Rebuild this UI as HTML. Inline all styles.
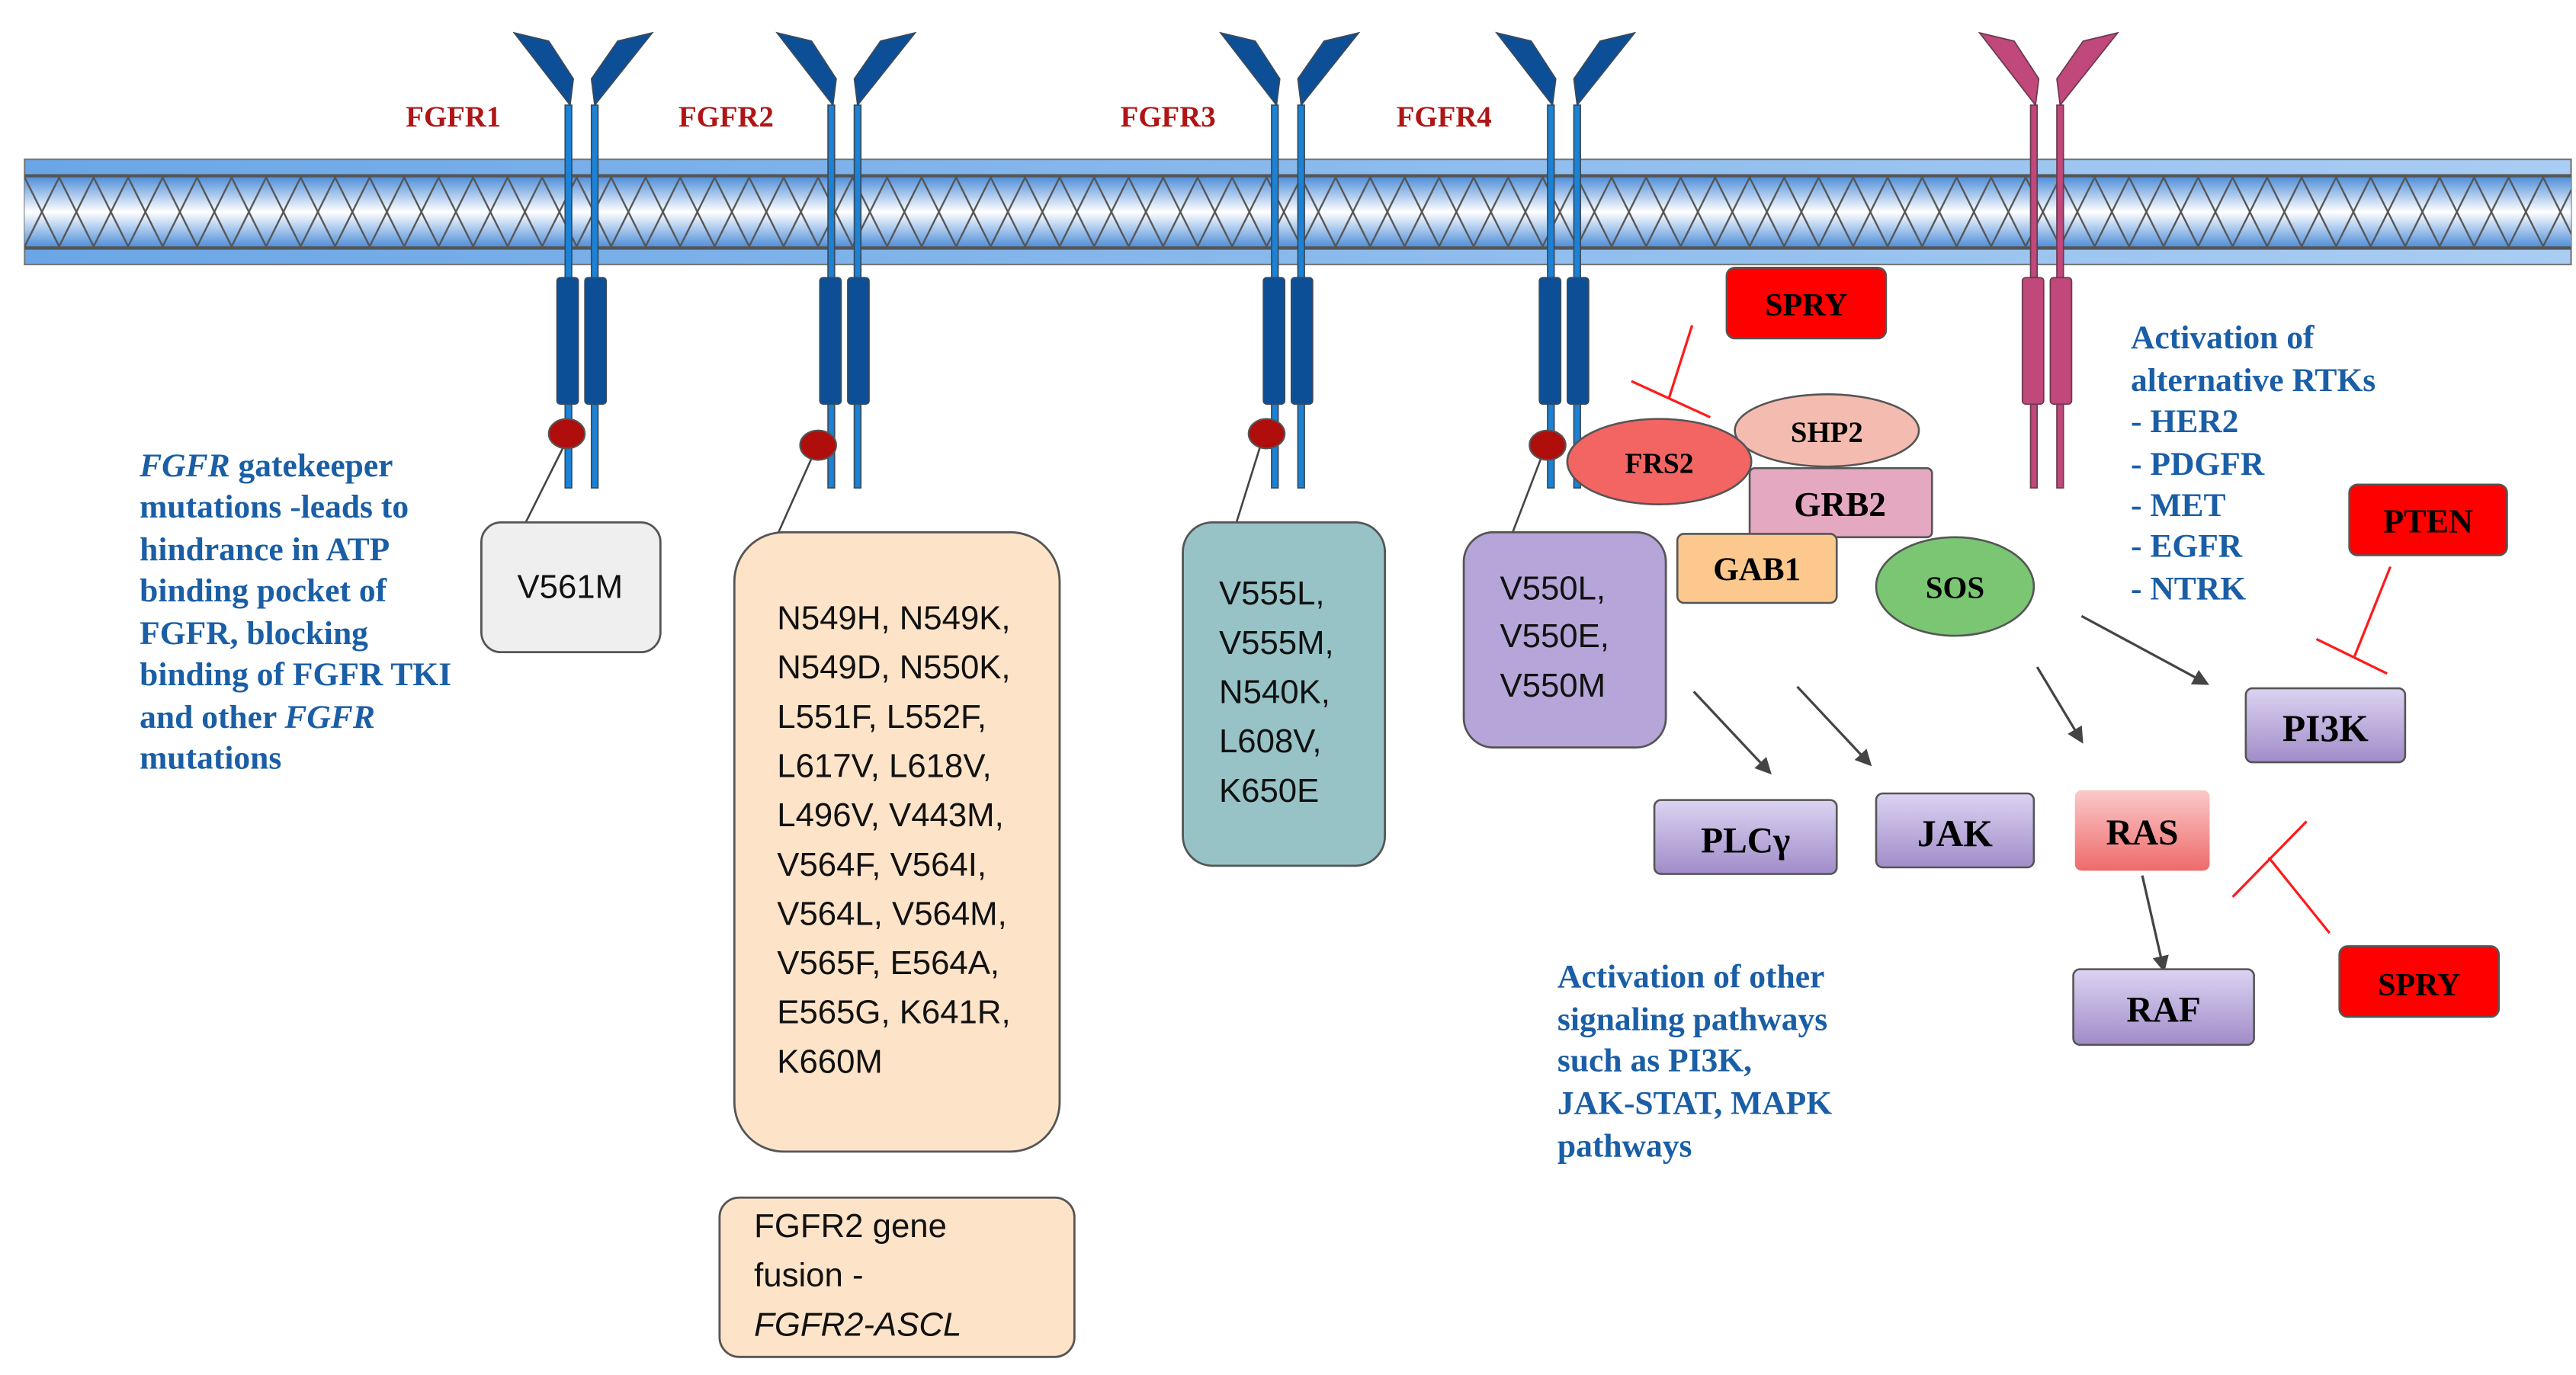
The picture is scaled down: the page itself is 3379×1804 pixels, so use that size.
<!DOCTYPE html>
<html><head><meta charset="utf-8"><style>
html,body{margin:0;padding:0;background:#fff;}
svg{display:block;}
.s{font-family:"Liberation Serif",serif;font-weight:bold;}
.a{font-family:"Liberation Sans",sans-serif;font-size:20.3px;fill:#111;}
.blue{fill:#1a5ea6;font-size:20.2px;}
.red{fill:#b01515;font-size:18px;}
</style></head><body>
<svg width="3379" height="1804" viewBox="0 0 1568 837" preserveAspectRatio="none" xmlns="http://www.w3.org/2000/svg">
<defs>
<linearGradient id="mem" x1="0" y1="0" x2="0" y2="1">
<stop offset="0" stop-color="#4a8bd8"/><stop offset="0.5" stop-color="#ffffff"/><stop offset="1" stop-color="#4a8bd8"/>
</linearGradient>
<linearGradient id="band" x1="0" y1="0" x2="1" y2="0">
<stop offset="0" stop-color="#6aa6e6"/><stop offset="1" stop-color="#a9cdf3"/>
</linearGradient>
<linearGradient id="pur" x1="0" y1="0" x2="0" y2="1">
<stop offset="0" stop-color="#dcd3f2"/><stop offset="1" stop-color="#a08cc8"/>
</linearGradient>
<linearGradient id="ras" x1="0" y1="0" x2="0" y2="1">
<stop offset="0" stop-color="#fbcaca"/><stop offset="1" stop-color="#ef6a6a"/>
</linearGradient>
<pattern id="zz" x="15" y="108" width="42" height="42" patternUnits="userSpaceOnUse">
<path d="M0,0 L21,42 L42,0 M0,42 L21,0 L42,42" stroke="#555" stroke-width="1.1" fill="none"/>
</pattern>
<marker id="ar" markerWidth="10" markerHeight="10" refX="8" refY="5" orient="auto" markerUnits="userSpaceOnUse" viewBox="0 0 10 10">
<path d="M0,0 L10,5 L0,10 z" fill="#444"/>
</marker>
<g id="rec">
<polygon points="-41,20 -20,25 -5,48 -7,64" fill="#0d4f96" stroke="#3a4a5a" stroke-width="0.8"/>
<polygon points="43,20 22,25 6,48 8,64" fill="#0d4f96" stroke="#3a4a5a" stroke-width="0.8"/>
<rect x="-10" y="64" width="4" height="233" fill="#1b82d6" stroke="#3a4a5a" stroke-width="0.8"/>
<rect x="6" y="64" width="4" height="233" fill="#1b82d6" stroke="#3a4a5a" stroke-width="0.8"/>
<rect x="-15" y="169" width="13" height="77" rx="2" fill="#0d4f96" stroke="#3a4a5a" stroke-width="0.8"/>
<rect x="2" y="169" width="13" height="77" rx="2" fill="#0d4f96" stroke="#3a4a5a" stroke-width="0.8"/>
</g>
</defs>

<!-- membrane -->
<rect x="15" y="97" width="1550" height="64" fill="url(#band)" stroke="#777" stroke-width="1"/>
<rect x="15" y="107" width="1550" height="44" fill="url(#mem)"/>
<rect x="15" y="107" width="1550" height="44" fill="url(#zz)"/>
<line x1="15" y1="107" x2="1565" y2="107" stroke="#555" stroke-width="2"/>
<line x1="15" y1="151" x2="1565" y2="151" stroke="#555" stroke-width="2"/>

<!-- receptors -->
<use href="#rec" x="354" y="0"/>
<use href="#rec" x="514" y="0"/>
<use href="#rec" x="784" y="0"/>
<use href="#rec" x="952" y="0"/>
<g transform="translate(1246,0)">
<polygon points="-41,20 -20,25 -5,48 -7,64" fill="#c0487a" stroke="#6a3a50" stroke-width="0.8"/>
<polygon points="43,20 22,25 6,48 8,64" fill="#c0487a" stroke="#6a3a50" stroke-width="0.8"/>
<rect x="-10" y="64" width="4" height="233" fill="#c0487a" stroke="#6a3a50" stroke-width="0.8"/>
<rect x="6" y="64" width="4" height="233" fill="#c0487a" stroke="#6a3a50" stroke-width="0.8"/>
<rect x="-15" y="169" width="13" height="77" rx="2" fill="#c0487a" stroke="#6a3a50" stroke-width="0.8"/>
<rect x="2" y="169" width="13" height="77" rx="2" fill="#c0487a" stroke="#6a3a50" stroke-width="0.8"/>
</g>

<text class="s red" x="247" y="77">FGFR1</text>
<text class="s red" x="413" y="77">FGFR2</text>
<text class="s red" x="682" y="77">FGFR3</text>
<text class="s red" x="850" y="77">FGFR4</text>

<!-- connectors -->
<g stroke="#444" stroke-width="1.2">
<line x1="343" y1="272" x2="319" y2="320"/>
<line x1="494" y1="279" x2="473" y2="326"/>
<line x1="767" y1="272" x2="752" y2="320"/>
<line x1="938" y1="279" x2="920" y2="326"/>
</g>
<g fill="#b00d0d" stroke="#555" stroke-width="1">
<ellipse cx="345" cy="264" rx="11" ry="9"/>
<ellipse cx="498" cy="271" rx="11" ry="9"/>
<ellipse cx="771" cy="264" rx="11" ry="9"/>
</g>

<!-- boxes -->
<rect x="293" y="318" width="109" height="79" rx="12" fill="#efefef" stroke="#555" stroke-width="1.3"/>
<text class="a" x="347" y="364" text-anchor="middle">V561M</text>

<rect x="447" y="324" width="198" height="377" rx="30" fill="#fde3c8" stroke="#555" stroke-width="1.3"/>
<g class="a">
<text x="473" y="383">N549H, N549K,</text>
<text x="473" y="413">N549D, N550K,</text>
<text x="473" y="443">L551F, L552F,</text>
<text x="473" y="473">L617V, L618V,</text>
<text x="473" y="503">L496V, V443M,</text>
<text x="473" y="533">V564F, V564I,</text>
<text x="473" y="563">V564L, V564M,</text>
<text x="473" y="593">V565F, E564A,</text>
<text x="473" y="623">E565G, K641R,</text>
<text x="473" y="653">K660M</text>
</g>

<rect x="438" y="729" width="216" height="97" rx="12" fill="#fde3c8" stroke="#555" stroke-width="1.3"/>
<g class="a">
<text x="459" y="753">FGFR2 gene</text>
<text x="459" y="783">fusion -</text>
<text x="459" y="813" font-style="italic">FGFR2-ASCL</text>
</g>

<rect x="720" y="318" width="123" height="209" rx="18" fill="#97c3c7" stroke="#555" stroke-width="1.3"/>
<g class="a">
<text x="742" y="368">V555L,</text>
<text x="742" y="398">V555M,</text>
<text x="742" y="428">N540K,</text>
<text x="742" y="458">L608V,</text>
<text x="742" y="488">K650E</text>
</g>

<rect x="891" y="324" width="123" height="131" rx="18" fill="#b6a5d8" stroke="#555" stroke-width="1.3"/>
<g class="a">
<text x="913" y="365">V550L,</text>
<text x="913" y="394">V550E,</text>
<text x="913" y="424">V550M</text>
</g>

<!-- left text -->
<g class="s blue">
<text x="85" y="290"><tspan font-style="italic">FGFR</tspan> gatekeeper</text>
<text x="85" y="315">mutations -leads to</text>
<text x="85" y="341">hindrance in ATP</text>
<text x="85" y="366">binding pocket of</text>
<text x="85" y="392">FGFR, blocking</text>
<text x="85" y="417">binding of FGFR TKI</text>
<text x="85" y="443">and other <tspan font-style="italic">FGFR</tspan></text>
<text x="85" y="468">mutations</text>
</g>

<!-- signaling complex -->
<rect x="1051" y="163" width="97" height="43" rx="5" fill="#ff0000" stroke="#555" stroke-width="1.2"/>
<text class="s" x="1099.5" y="192" font-size="19.5" text-anchor="middle">SPRY</text>
<g stroke="#ff1a1a" stroke-width="1.5">
<line x1="1030" y1="198" x2="1016" y2="242"/>
<line x1="993" y1="232" x2="1041" y2="254"/>
</g>
<ellipse cx="1112" cy="262" rx="56" ry="22" fill="#f4bcb0" stroke="#555" stroke-width="1.2"/>
<text class="s" x="1112" y="269" font-size="18" text-anchor="middle">SHP2</text>
<rect x="1065" y="285" width="111" height="42" rx="3" fill="#e4a8c0" stroke="#555" stroke-width="1.2"/>
<text class="s" x="1120" y="314" font-size="21" text-anchor="middle">GRB2</text>
<ellipse cx="1010" cy="281" rx="56" ry="26" fill="#f26563" stroke="#555" stroke-width="1.2"/>
<text class="s" x="1010" y="288" font-size="17.5" text-anchor="middle">FRS2</text>
<ellipse cx="942" cy="271" rx="11" ry="9" fill="#b00d0d" stroke="#555" stroke-width="1"/>
<rect x="1021" y="325" width="97" height="42" rx="4" fill="#fcc88e" stroke="#555" stroke-width="1.2"/>
<text class="s" x="1069.5" y="353" font-size="20" text-anchor="middle">GAB1</text>
<ellipse cx="1190" cy="357" rx="48" ry="30" fill="#7ac673" stroke="#555" stroke-width="1.2"/>
<text class="s" x="1190" y="364" font-size="19" text-anchor="middle">SOS</text>

<g class="s blue">
<text x="1297" y="212">Activation of</text>
<text x="1297" y="238">alternative RTKs</text>
<text x="1297" y="263">- HER2</text>
<text x="1297" y="289">- PDGFR</text>
<text x="1297" y="314">- MET</text>
<text x="1297" y="339">- EGFR</text>
<text x="1297" y="365">- NTRK</text>
</g>

<rect x="1430" y="295" width="96" height="43" rx="5" fill="#ff0000" stroke="#555" stroke-width="1.2"/>
<text class="s" x="1478" y="324" font-size="20.5" text-anchor="middle">PTEN</text>
<g stroke="#ff1a1a" stroke-width="1.5">
<line x1="1455" y1="345" x2="1433" y2="400"/>
<line x1="1410" y1="389" x2="1453" y2="410"/>
</g>

<rect x="1367" y="419" width="97" height="45" rx="4" fill="url(#pur)" stroke="#555" stroke-width="1.2"/>
<text class="s" x="1415.5" y="451" font-size="23" text-anchor="middle">PI3K</text>

<g stroke="#444" stroke-width="1.5" marker-end="url(#ar)">
<line x1="1267" y1="375" x2="1343" y2="416"/>
<line x1="1240" y1="406" x2="1267" y2="451"/>
<line x1="1031" y1="421" x2="1077" y2="470"/>
<line x1="1094" y1="418" x2="1138" y2="465"/>
<line x1="1304" y1="533" x2="1317" y2="590"/>
</g>

<rect x="1007" y="487" width="111" height="45" rx="4" fill="url(#pur)" stroke="#555" stroke-width="1.2"/>
<text class="s" x="1062.5" y="519" font-size="22" text-anchor="middle">PLCγ</text>
<rect x="1142" y="483" width="96" height="45" rx="4" fill="url(#pur)" stroke="#555" stroke-width="1.2"/>
<text class="s" x="1190" y="515" font-size="23" text-anchor="middle">JAK</text>
<rect x="1263" y="481" width="82" height="49" rx="4" fill="url(#ras)"/>
<text class="s" x="1304" y="514" font-size="22" text-anchor="middle">RAS</text>
<rect x="1262" y="590" width="110" height="46" rx="4" fill="url(#pur)" stroke="#555" stroke-width="1.2"/>
<text class="s" x="1317" y="622" font-size="22" text-anchor="middle">RAF</text>

<rect x="1424" y="576" width="97" height="43" rx="5" fill="#ff0000" stroke="#555" stroke-width="1.2"/>
<text class="s" x="1472.5" y="606" font-size="19.5" text-anchor="middle">SPRY</text>
<g stroke="#ff1a1a" stroke-width="1.5">
<line x1="1418" y1="568" x2="1381" y2="522"/>
<line x1="1359" y1="546" x2="1404" y2="500"/>
</g>

<g class="s blue">
<text x="948" y="601">Activation of other</text>
<text x="948" y="627">signaling pathways</text>
<text x="948" y="652">such as PI3K,</text>
<text x="948" y="678">JAK-STAT, MAPK</text>
<text x="948" y="704">pathways</text>
</g>
</svg>
</body></html>
